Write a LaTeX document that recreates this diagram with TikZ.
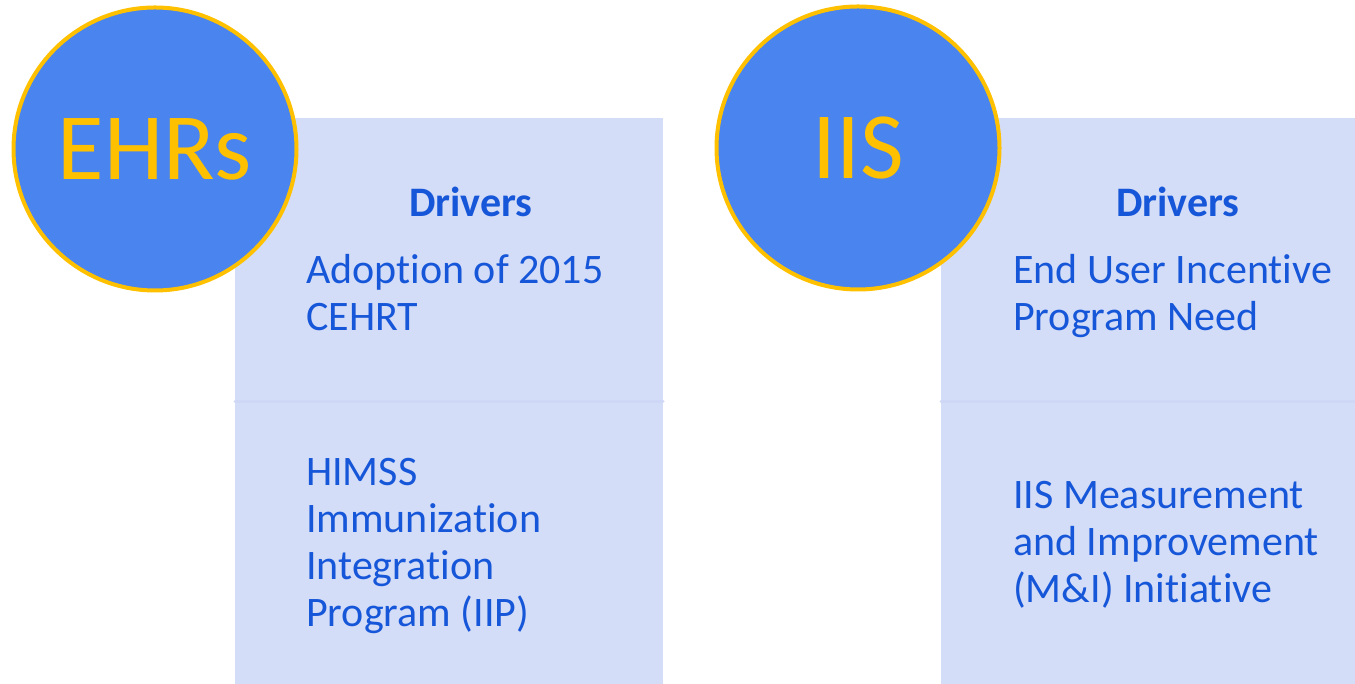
\documentclass[tikz,border=0pt]{standalone}
\usepackage{fontspec}
\setmainfont{Carlito}[Ligatures={NoCommon,NoRare}]
\usetikzlibrary{positioning}

\definecolor{discblue}{RGB}{74,132,238}
\definecolor{ringgold}{RGB}{255,192,0}
\definecolor{panelfill}{RGB}{212,221,248}
\definecolor{panelrule}{RGB}{206,216,246}
\definecolor{driverblue}{RGB}{22,86,216}

\tikzset{
  disc/.style={circle,draw=ringgold,line width=4pt,fill=discblue,inner sep=0pt,
    minimum size=283pt,text=ringgold,font=\fontsize{95}{95}\selectfont},
  head/.style={text=driverblue,inner sep=0pt,font=\bfseries\fontsize{42}{47}\selectfont},
  item/.style={text=driverblue,inner sep=0pt,align=left,anchor=north west,
    font=\fontsize{42}{47}\selectfont}
}

\begin{document}
\begin{tikzpicture}[x=1pt,y=1pt,line cap=round,line join=round]
\useasboundingbox (0,0) rectangle (1355,684);
% panels
\fill[panelfill] (235,0) rectangle (663,566);
\fill[panelfill] (941,0) rectangle (1355,566);
\draw[panelrule,line width=3pt] (235,282) -- (663,282);
\draw[panelrule,line width=3pt] (941,282) -- (1355,282);
% discs
\node[disc] (ehrs) at (155,535) {EHRs};
\node[disc] (iis) at (858,536) {IIS};
% drivers, left
\node[head,anchor=base] (ehrshead) at (471,467) {Drivers};
\node[item] (ehrsa) at (306,430) {Adoption of 2015\\CEHRT};
\node[item] (ehrsb) at (306,226) {HIMSS\\Immunization\\Integration\\Program (IIP)};
% drivers, right
\node[head,anchor=base] (iishead) at (1178,467) {Drivers};
\node[item] (iisa) at (1013,430) {End User Incentive\\Program Need};
\node[item] (iisb) at (1013,203) {IIS Measurement\\and Improvement\\(M\&I) Initiative};
\end{tikzpicture}
\end{document}
